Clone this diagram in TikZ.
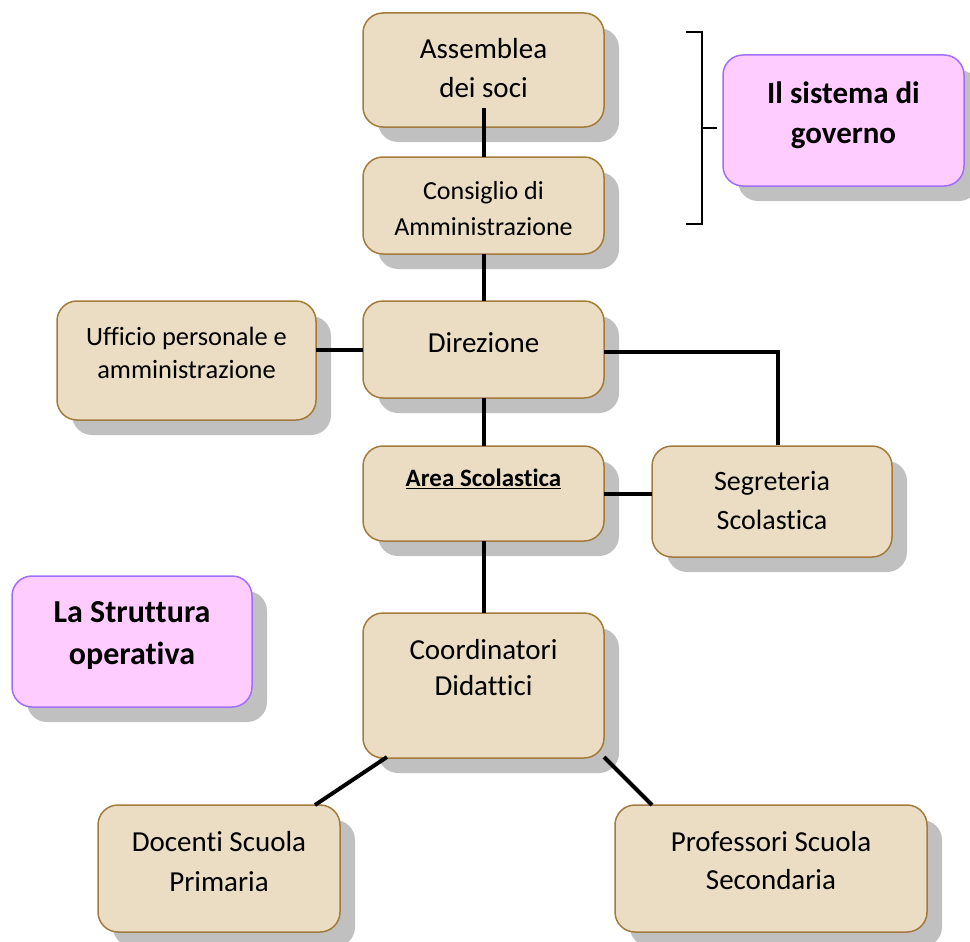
\documentclass[tikz,border=0pt]{standalone}
\usepackage{fontspec}
\setmainfont[RawFeature={-liga;-clig}]{Carlito}
\usetikzlibrary{shadows}
\definecolor{tanfill}{HTML}{EADDC3}
\definecolor{tanline}{HTML}{A37B3C}
\definecolor{pinkfill}{HTML}{FFCCFF}
\definecolor{pinkline}{HTML}{A070F8}
\definecolor{shgray}{HTML}{C0C0C0}
\begin{document}
\begin{tikzpicture}[x=1pt,y=-1pt,
  boxbase/.style={line width=1.5pt, rounded corners=20pt, inner sep=0pt, outer sep=0pt,
    drop shadow={shadow xshift=15pt, shadow yshift=-15pt, fill=shgray, opacity=1}},
  tanbox/.style={boxbase, draw=tanline, fill=tanfill},
  pinkbox/.style={boxbase, draw=pinkline, fill=pinkfill},
  txt/.style={align=center, inner sep=0pt, text=black},
  conn/.style={line width=4pt, black},
  brk/.style={line width=2pt, black}]
\useasboundingbox (0,0) rectangle (970,942);

% boxes
\node[tanbox, minimum width=241pt, minimum height=114pt] (ass) at (483.5,70) {};
\node[tanbox, minimum width=241pt, minimum height=97pt] (cons) at (483.5,205.5) {};
\node[tanbox, minimum width=241pt, minimum height=97pt] (dir) at (483.5,349.5) {};
\node[tanbox, minimum width=259pt, minimum height=119pt] (uff) at (186.5,360.5) {};
\node[tanbox, minimum width=241pt, minimum height=95pt] (area) at (483.5,493.5) {};
\node[tanbox, minimum width=240pt, minimum height=111pt] (seg) at (772,501.5) {};
\node[tanbox, minimum width=241pt, minimum height=145pt] (coord) at (483.5,685.5) {};
\node[tanbox, minimum width=242pt, minimum height=127pt] (doc) at (219,868.5) {};
\node[tanbox, minimum width=312pt, minimum height=127pt] (prof) at (771,868.5) {};
\node[pinkbox, minimum width=241pt, minimum height=131pt] (gov) at (843.5,120.5) {};
\node[pinkbox, minimum width=240pt, minimum height=131pt] (str) at (132,641.5) {};

% connector helper coordinates
\coordinate (asstail) at (483.5,108);
\coordinate (dirR) at (604,352);
\coordinate (segtop) at (778,445);
\coordinate (cdl) at (387,757);
\coordinate (docin) at (315,805);
\coordinate (cdr) at (604,757);
\coordinate (profin) at (652,805);

% connectors
\draw[conn] (asstail) -- (cons.north);
\draw[conn] (cons.south) -- (dir.north);
\draw[conn] (uff.east |- dir.west) -- (dir.west);
\draw[conn] (dirR) -| (segtop);
\draw[conn] (dir.south) -- (area.north);
\draw[conn] (area.east) -- (seg.west |- area.east);
\draw[conn] (area.south) -- (coord.north);
\draw[conn] (cdl) -- (docin);
\draw[conn] (cdr) -- (profin);

% bracket
\coordinate (bt) at (686,32);
\coordinate (bb) at (686,224);
\coordinate (bm) at (702,128);
\coordinate (bmr) at (717,128);
\draw[brk] (bt) -- (702,32) -- (702,224) -- (bb);
\draw[brk] (bm) -- (bmr);

% texts
\node[txt, font=\fontsize{29}{39}\selectfont] (ass-t) at (483.5,68) {Assemblea\\dei soci};
\node[txt, font=\fontsize{26}{36}\selectfont] (cons-t) at (483.5,208.5) {Consiglio di\\Amministrazione};
\node[txt, font=\fontsize{29}{38}\selectfont] (dir-t) at (483.5,343) {Direzione};
\node[txt, font=\fontsize{26.4}{33}\selectfont] (uff-t) at (186.5,353) {Ufficio personale e\\amministrazione};
\node[txt, font=\fontsize{25}{32}\selectfont\bfseries] (area-t) at (483.5,479) {\underline{Area Scolastica}};
\node[txt, font=\fontsize{28}{39}\selectfont] (seg-t) at (772,500) {Segreteria\\Scolastica};
\node[txt, font=\fontsize{29}{36}\selectfont] (coord-t) at (483.5,668) {Coordinatori\\Didattici};
\node[txt, font=\fontsize{29}{40}\selectfont] (doc-t) at (219,862) {Docenti Scuola\\Primaria};
\node[txt, font=\fontsize{29}{38}\selectfont] (prof-t) at (771,861) {Professori Scuola\\Secondaria};
\node[txt, font=\fontsize{31}{40}\selectfont\bfseries] (gov-t) at (843.5,115) {Il sistema di\\governo};
\node[txt, font=\fontsize{32}{42}\selectfont\bfseries] (str-t) at (132,636) {La Struttura\\operativa};
\end{tikzpicture}
\end{document}
